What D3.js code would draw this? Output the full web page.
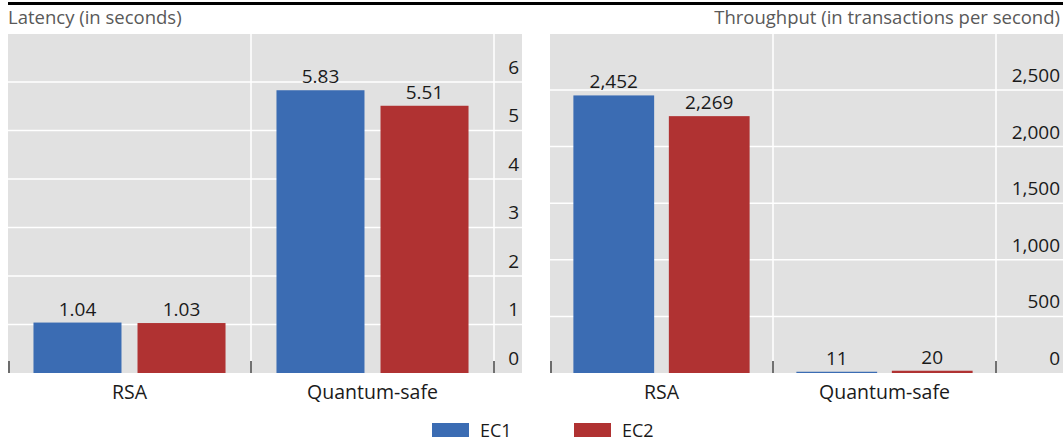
<!DOCTYPE html>
<html>
<head>
<meta charset="utf-8">
<script src="https://cdn.jsdelivr.net/npm/d3@7"></script>
<style>
  body { margin: 0; background: #fff; }
  text { font-family: "Open Sans", "Noto Sans", sans-serif; }
</style>
</head>
<body>
<div id="chart"></div>
<script>
var width = 1063,
    height = 443;

// data
var categories = ["RSA", "Quantum-safe"];
var series = ["EC1", "EC2"];
var latencyEC1 = [1.04, 5.83];
var latencyEC2 = [1.03, 5.51];
var throughputEC1 = [2452, 11];
var throughputEC2 = [2269, 20];
var latencyTicks = [0, 1, 2, 3, 4, 5, 6];
var throughputTicks = [0, 500, 1000, 1500, 2000, 2500];

var colors = {EC1: "#3b6cb3", EC2: "#b03232"};
var plotTop = 34, plotBottom = 373;

var svg = d3.select("#chart").append("svg")
        .attr("width", width)
        .attr("height", height);

// black rule on top
svg.append("rect")
        .attr("x", 8)
        .attr("y", 2)
        .attr("width", width - 8)
        .attr("height", 3)
        .attr("fill", "#000");

function panel(opts) {
    var g = svg.append("g");
    var x0 = d3.scaleBand().domain(categories).range([opts.left, opts.bandRight]);
    var x1 = d3.scaleBand().domain(series).range([0, x0.bandwidth()])
            .paddingInner(0.154).paddingOuter(0.245);
    var y = d3.scaleLinear().domain(opts.domain).range([plotBottom, opts.topY]);

    g.append("rect")
            .attr("x", opts.left)
            .attr("y", plotTop)
            .attr("width", opts.right - opts.left)
            .attr("height", plotBottom - plotTop)
            .attr("fill", "#e1e1e1");

    // horizontal grid
    g.selectAll(".hgrid")
            .data(opts.ticks.filter(function (d) { return d > 0; }))
            .enter().append("line")
            .attr("x1", opts.left)
            .attr("x2", opts.right)
            .attr("y1", function (d) { return y(d); })
            .attr("y2", function (d) { return y(d); })
            .attr("stroke", "#fff")
            .attr("stroke-width", 1.5);

    // vertical grid at category boundaries
    var bounds = categories.map(function (c) { return x0(c) + x0.bandwidth(); });
    g.selectAll(".vgrid")
            .data(bounds)
            .enter().append("line")
            .attr("x1", function (d) { return d; })
            .attr("x2", function (d) { return d; })
            .attr("y1", plotTop)
            .attr("y2", plotBottom)
            .attr("stroke", "#fff")
            .attr("stroke-width", 1.5);

    // category ticks
    g.selectAll(".ctick")
            .data([opts.left + 1].concat(bounds))
            .enter().append("line")
            .attr("x1", function (d) { return d; })
            .attr("x2", function (d) { return d; })
            .attr("y1", plotBottom - 12)
            .attr("y2", plotBottom)
            .attr("stroke", "#444")
            .attr("stroke-width", 1.5);

    // bars
    var rows = [];
    categories.forEach(function (c, i) {
        rows.push({cat: c, s: "EC1", v: opts.v1[i]});
        rows.push({cat: c, s: "EC2", v: opts.v2[i]});
    });
    g.selectAll(".bar")
            .data(rows)
            .enter().append("rect")
            .attr("x", function (d) { return x0(d.cat) + x1(d.s); })
            .attr("y", function (d) { return y(d.v); })
            .attr("width", x1.bandwidth())
            .attr("height", function (d) { return plotBottom - y(d.v); })
            .attr("fill", function (d) { return colors[d.s]; });
    g.selectAll(".lbl")
            .data(rows)
            .enter().append("text")
            .attr("x", function (d) { return x0(d.cat) + x1(d.s) + x1.bandwidth() / 2; })
            .attr("y", function (d) { return y(d.v) - 7; })
            .attr("text-anchor", "middle")
            .attr("font-size", 19)
            .attr("fill", "#1a1a1a")
            .text(function (d) { return opts.fmt(d.v); });

    // y tick labels (sit above their grid line)
    var axis = d3.axisLeft(y).tickValues(opts.ticks).tickSize(0).tickPadding(0)
            .tickFormat(opts.fmt);
    var ax = g.append("g")
            .attr("transform", "translate(" + (opts.right - 3) + ",0)")
            .call(axis);
    ax.select(".domain").remove();
    ax.selectAll("text")
            .attr("font-size", 19)
            .attr("fill", "#1a1a1a")
            .attr("dy", "-0.45em")
            .style("font-family", "'Open Sans', 'Noto Sans', sans-serif");

    // category labels
    g.selectAll(".cat")
            .data(categories)
            .enter().append("text")
            .attr("x", function (d) { return x0(d) + x0.bandwidth() / 2; })
            .attr("y", 399)
            .attr("text-anchor", "middle")
            .attr("font-size", 19.5)
            .attr("fill", "#1a1a1a")
            .text(function (d) { return d; });

    // title
    svg.append("text")
            .attr("x", opts.titleX)
            .attr("y", 24)
            .attr("text-anchor", opts.titleAnchor)
            .attr("font-size", 18.5)
            .attr("fill", "#595959")
            .text(opts.title);
}

panel({
    left: 8, bandRight: 494, right: 522, topY: 82,
    domain: [0, 6], ticks: latencyTicks,
    v1: latencyEC1, v2: latencyEC2,
    fmt: function (d) { return d % 1 === 0 ? String(d) : d3.format(".2f")(d); },
    title: "Latency (in seconds)", titleX: 8, titleAnchor: "start"
});

panel({
    left: 550, bandRight: 996, right: width, topY: 90,
    domain: [0, 2500], ticks: throughputTicks,
    v1: throughputEC1, v2: throughputEC2,
    fmt: d3.format(","),
    title: "Throughput (in transactions per second)", titleX: 1060, titleAnchor: "end"
});

// legend
var legend = svg.append("g");
var legendX = [432, 574];
series.forEach(function (s, i) {
    legend.append("rect")
            .attr("x", legendX[i])
            .attr("y", 423)
            .attr("width", 37)
            .attr("height", 14)
            .attr("fill", colors[s]);
    legend.append("text")
            .attr("x", legendX[i] + 48)
            .attr("y", 437)
            .attr("font-size", 18)
            .attr("fill", "#1a1a1a")
            .text(s);
});
</script>
</body>
</html>
